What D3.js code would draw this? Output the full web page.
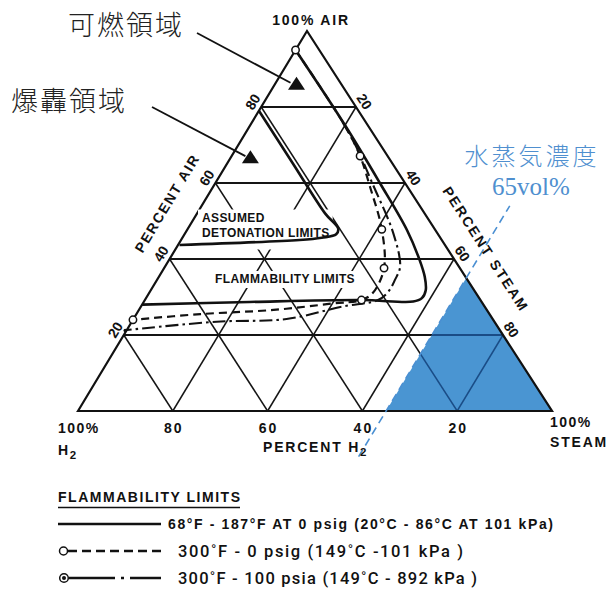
<!DOCTYPE html>
<html>
<head>
<meta charset="utf-8">
<script src="https://cdn.jsdelivr.net/npm/d3@7/dist/d3.min.js"></script>
<style>
  body { margin: 0; background: #fff; }
  svg { display: block; }
  .lbl { font-family: "Liberation Sans", Arial, sans-serif; font-weight: bold; fill: #111; }
  .jp { font-family: "Noto Sans CJK JP", sans-serif; font-weight: 300; }
</style>
</head>
<body>
<svg id="chart" width="608" height="590"></svg>
<script>
// ---- ternary grid ticks (percent) ----
const gridTicks = [20, 40, 60, 80];
const h2TickLabels = ["80", "60", "40", "20"];      // along the base, H2 %
const airTickLabels = ["20", "40", "60", "80"];     // left side, air %
const steamTickLabels = ["20", "40", "60", "80"];   // right side, steam %

// ---- flammability / detonation limit curves, [H2, air, steam] vol% ----
const limitsAmbient = [
  [5, 95, 0], [4.8, 75, 20.2], [5.3, 60, 34.7], [6, 47.5, 46.5], [7.4, 39.7, 52.9],
  [8.6, 35.3, 56.1], [10.2, 31.8, 58], [12.1, 29.7, 58.2], [14.4, 28.8, 56.8],
  [25, 29.2, 45.8], [49, 28.7, 22.3], [72, 28, 0]
];
const limits300F0psig = [
  [5, 95, 0], [4.9, 75, 20.1], [5.8, 67.1, 27.1], [7.9, 59, 33.1], [11.2, 47.8, 41],
  [16, 37.6, 46.4], [21.7, 31.1, 47.2], [25.1, 29.2, 45.7], [31.6, 28.3, 40.1],
  [45, 26.6, 28.4], [61, 25.5, 13.5], [76, 24, 0]
];
const markers300F0psig = [
  [5, 95, 0], [5.8, 67.1, 27.1], [11.2, 47.8, 41], [16, 37.6, 46.4], [25.1, 29.2, 45.7], [76, 24, 0]
];
const limits300F100psia = [
  [4.9, 76, 19.1], [5.3, 70, 24.7], [7, 59.5, 33.5], [9.3, 46.8, 43.9], [12.4, 38, 49.6],
  [15.3, 34.5, 50.2], [18.3, 31.4, 50.3], [21.6, 29.2, 49.2], [30, 27.5, 42.5],
  [43.5, 24.2, 32.3], [58.6, 23.5, 17.9], [78.7, 21.3, 0]
];
const detonationLimits = [
  [21, 79, 0], [21, 65, 14], [21, 52, 27], [20.3, 48, 31.7], [21.5, 46.5, 32],
  [25, 45.6, 29.4], [30, 45, 25], [56, 43.7, 0.3]
];
// region markers, [H2, air, steam]
const flammableMark = [9.4, 86.1, 4.5];
const detonationMark = [29.1, 66.8, 4.1];
// steam concentration threshold, vol%
const steamThreshold = 65;
const guideAirRange = [-12, 54];

// ---- legend ----
const legendTitle = "FLAMMABILITY LIMITS";
const legendLabels = [
  "68°F - 187°F AT 0 psig (20°C - 86°C AT 101 kPa)",
  "300˚F - 0 psig (149˚C -101 kPa )",
  "300˚F - 100 psia (149˚C - 892 kPa )"
];

const svg = d3.select("#chart");

// ternary -> screen: air sets the height, steam shifts along the base
const yAir = d3.scaleLinear().domain([0, 100]).range([411, 31]);
const xAirShift = d3.scaleLinear().domain([0, 100]).range([78, 307]);
const xSteam = d3.scaleLinear().domain([0, 100]).range([0, 474]);
const pt = ([h2, air, steam]) => [xAirShift(air) + xSteam(steam), yAir(air)];

const L = pt([100, 0, 0]), A = pt([0, 100, 0]), R = pt([0, 0, 100]);
const unit = (dx, dy) => { const m = Math.hypot(dx, dy); return [dx / m, dy / m]; };
const leftDir = unit(A[0] - L[0], A[1] - L[1]);
const rightDir = unit(R[0] - A[0], R[1] - A[1]);
const leftNormal = [leftDir[1], -leftDir[0]];
const rightNormal = [rightDir[1], -rightDir[0]];
const leftAngle = Math.atan2(leftDir[1], leftDir[0]) * 180 / Math.PI;
const rightAngle = Math.atan2(rightDir[1], rightDir[0]) * 180 / Math.PI;

function gridSegments() {
  const segs = [];
  gridTicks.forEach(v => {
    segs.push({ a: pt([100 - v, v, 0]), b: pt([0, v, 100 - v]), w: 2.1 });   // constant air
    segs.push({ a: pt([v, 100 - v, 0]), b: pt([v, 0, 100 - v]), w: 1.5 });   // constant H2
    segs.push({ a: pt([100 - v, 0, v]), b: pt([0, 100 - v, v]), w: 1.5 });   // constant steam
  });
  return segs;
}
function drawGrid(g, color) {
  g.selectAll("line").data(gridSegments()).join("line")
    .attr("x1", d => d.a[0]).attr("y1", d => d.a[1])
    .attr("x2", d => d.b[0]).attr("y2", d => d.b[1])
    .attr("stroke", color).attr("stroke-width", d => d.w);
}

const gridG = svg.append("g");
drawGrid(gridG, "#151515");

// high-steam region
const steamRegion = [
  [100 - steamThreshold, 0, steamThreshold], [0, 0, 100], [0, 100 - steamThreshold, steamThreshold]
].map(pt);
svg.append("clipPath").attr("id", "steamClip")
  .append("polygon").attr("points", steamRegion.map(p => p.join(",")).join(" "));
svg.append("polygon").attr("points", steamRegion.map(p => p.join(",")).join(" "))
  .attr("fill", "#4a95d2");
const gridBlue = svg.append("g").attr("clip-path", "url(#steamClip)");
drawGrid(gridBlue, "#1a4c86");

// outer triangle
svg.append("path").attr("d", d3.line()([L, A, R, L]) + "Z")
  .attr("fill", "none").attr("stroke", "#111").attr("stroke-width", 2.2)
  .attr("stroke-linejoin", "miter");

// steam concentration guide
const gA = pt([100 - steamThreshold - guideAirRange[0], guideAirRange[0], steamThreshold]);
const gB = pt([100 - steamThreshold - guideAirRange[1], guideAirRange[1], steamThreshold]);
svg.append("line").attr("x1", gA[0]).attr("y1", gA[1]).attr("x2", gB[0]).attr("y2", gB[1])
  .attr("stroke", "#4a8fd2").attr("stroke-width", 1.6).attr("stroke-dasharray", "8,5");

// in-plot labels with white knock-out behind them
const maskG = svg.append("g");
const curveG = svg.append("g").attr("fill", "none").attr("stroke", "#111");
const textG = svg.append("g");

const inner = [
  { t: "ASSUMED", x: 202, y: 221.5 },
  { t: "DETONATION LIMITS", x: 202, y: 236.5 },
  { t: "FLAMMABILITY LIMITS", x: 215, y: 283 }
];
const innerNodes = inner.map(d => textG.append("text").attr("class", "lbl")
  .attr("x", d.x).attr("y", d.y).attr("font-size", 12).attr("letter-spacing", 0.4)
  .text(d.t).node());
function knockout(nodes, pad) {
  const boxes = nodes.map(n => n.getBBox());
  const x0 = d3.min(boxes, b => b.x) - pad[3], x1 = d3.max(boxes, b => b.x + b.width) + pad[1];
  const y0 = d3.min(boxes, b => b.y) - pad[0], y1 = d3.max(boxes, b => b.y + b.height) + pad[2];
  maskG.append("rect").attr("x", x0).attr("y", y0).attr("width", x1 - x0).attr("height", y1 - y0)
    .attr("fill", "#fff");
}
knockout(innerNodes.slice(0, 2), [1, 3, 10, 4]);
knockout(innerNodes.slice(2), [1, 4, 2, 4]);

const smooth = d3.line().curve(d3.curveCatmullRom.alpha(0.5));
curveG.append("path").attr("d", smooth(detonationLimits.map(pt))).attr("stroke-width", 2.6);
curveG.append("path").attr("d", smooth(limitsAmbient.map(pt))).attr("stroke-width", 2.6);
curveG.append("path").attr("d", smooth(limits300F0psig.map(pt))).attr("stroke-width", 2.2)
  .attr("stroke-dasharray", "8,5");
curveG.append("path").attr("d", smooth(limits300F100psia.map(pt))).attr("stroke-width", 2.1)
  .attr("stroke-dasharray", "13,4,2.5,4");
curveG.selectAll("circle.m").data(markers300F0psig).join("circle").attr("class", "m")
  .attr("cx", d => pt(d)[0]).attr("cy", d => pt(d)[1]).attr("r", 3.7)
  .attr("fill", "#fff").attr("stroke-width", 1.5);
const endDot = pt(limits300F100psia[limits300F100psia.length - 1]);
curveG.append("circle").attr("cx", endDot[0] - 1.5).attr("cy", endDot[1] + 0.5).attr("r", 1.8)
  .attr("fill", "#111").attr("stroke", "none");

// region markers with leader lines
function markTri(c) {
  const [x, y] = pt(c);
  return [[x - 8.5, y + 6], [x + 8.5, y + 6], [x, y - 7]];
}
const fm = pt(flammableMark), dm = pt(detonationMark);
svg.append("line").attr("x1", 197).attr("y1", 33).attr("x2", fm[0] - 6).attr("y2", fm[1] - 1)
  .attr("stroke", "#111").attr("stroke-width", 1.8);
svg.append("line").attr("x1", 152).attr("y1", 107).attr("x2", dm[0] - 5).attr("y2", dm[1] - 1)
  .attr("stroke", "#111").attr("stroke-width", 1.8);
[flammableMark, detonationMark].forEach(c => {
  svg.append("polygon").attr("points", markTri(c).map(p => p.join(",")).join(" ")).attr("fill", "#111");
});

// Japanese annotations
svg.append("text").attr("class", "jp").attr("x", 68).attr("y", 35).attr("font-size", 27)
  .attr("letter-spacing", 2).attr("fill", "#222").text("可燃領域");
svg.append("text").attr("class", "jp").attr("x", 11).attr("y", 111).attr("font-size", 27)
  .attr("letter-spacing", 2).attr("fill", "#222").text("爆轟領域");
svg.append("text").attr("class", "jp").attr("x", 532).attr("y", 165).attr("font-size", 24)
  .attr("letter-spacing", 3).attr("text-anchor", "middle").attr("fill", "#4f8fcf").text("水蒸気濃度");
svg.append("text").attr("x", 531).attr("y", 195).attr("font-size", 25)
  .attr("font-family", "'Liberation Serif', serif").attr("text-anchor", "middle")
  .attr("fill", "#4f8fcf").text(steamThreshold + "vol%");

// side tick labels
const axG = svg.append("g").attr("class", "lbl").attr("font-size", 14);
airTickLabels.forEach((t, i) => {
  const v = gridTicks[i];
  const e = pt([100 - v, v, 0]);
  const x = e[0] + leftNormal[0] * 10, y = e[1] + leftNormal[1] * 10;
  axG.append("text").attr("transform", `translate(${x},${y}) rotate(${leftAngle})`)
    .attr("text-anchor", "middle").attr("dominant-baseline", "central").text(t);
});
steamTickLabels.forEach((t, i) => {
  const v = gridTicks[i];
  const e = pt([0, 100 - v, v]);
  const x = e[0] + rightNormal[0] * 10, y = e[1] + rightNormal[1] * 10;
  axG.append("text").attr("transform", `translate(${x},${y}) rotate(${rightAngle})`)
    .attr("text-anchor", "middle").attr("dominant-baseline", "central").text(t);
});
h2TickLabels.forEach((t, i) => {
  const v = gridTicks[i];
  const e = pt([100 - v, 0, v]);
  axG.append("text").attr("x", e[0] + 1).attr("y", 433).attr("text-anchor", "middle")
    .attr("letter-spacing", 2).text(t);
});
{
  const e = pt([50, 50.5, 0]);
  const x = e[0] + leftNormal[0] * 31, y = e[1] + leftNormal[1] * 31;
  axG.append("text").attr("transform", `translate(${x},${y}) rotate(${leftAngle})`)
    .attr("text-anchor", "middle").attr("dominant-baseline", "central")
    .attr("letter-spacing", 1.6).text("PERCENT AIR");
}
{
  const e = pt([0, 38, 62]);
  const x = e[0] + rightNormal[0] * 32, y = e[1] + rightNormal[1] * 32;
  axG.append("text").attr("transform", `translate(${x},${y}) rotate(${rightAngle})`)
    .attr("text-anchor", "middle").attr("dominant-baseline", "central")
    .attr("letter-spacing", 2).text("PERCENT STEAM");
}
axG.append("text").attr("x", 311).attr("y", 25).attr("text-anchor", "middle")
  .attr("letter-spacing", 1.8).text("100% AIR");
axG.append("text").attr("x", 58).attr("y", 433).attr("letter-spacing", 1.5).text("100%");
const h2lbl = axG.append("text").attr("x", 58).attr("y", 455).attr("letter-spacing", 1.5);
h2lbl.append("tspan").text("H");
h2lbl.append("tspan").attr("dy", 4).attr("font-size", 11.5).text("2");
axG.append("text").attr("x", 550).attr("y", 427).attr("letter-spacing", 1.5).text("100%");
axG.append("text").attr("x", 550).attr("y", 447).attr("letter-spacing", 1.8).text("STEAM");
const ph = axG.append("text").attr("x", 263).attr("y", 452).attr("letter-spacing", 1.8);
ph.append("tspan").text("PERCENT H");
ph.append("tspan").attr("dy", 4).attr("font-size", 11.5).text("2");

// ---- legend ----
const lg = svg.append("g");
lg.append("text").attr("class", "lbl").attr("x", 58).attr("y", 502).attr("font-size", 14)
  .attr("textLength", 182).attr("lengthAdjust", "spacing").text(legendTitle);
lg.append("line").attr("x1", 58).attr("x2", 240).attr("y1", 507.5).attr("y2", 507.5)
  .attr("stroke", "#111").attr("stroke-width", 1.6);
const rowY = [524, 551, 578];
lg.append("line").attr("x1", 58).attr("x2", 161).attr("y1", rowY[0]).attr("y2", rowY[0])
  .attr("stroke", "#111").attr("stroke-width", 2.5);
lg.append("line").attr("x1", 68).attr("x2", 161).attr("y1", rowY[1]).attr("y2", rowY[1])
  .attr("stroke", "#111").attr("stroke-width", 2.5).attr("stroke-dasharray", "9,5");
lg.append("circle").attr("cx", 63.5).attr("cy", rowY[1]).attr("r", 4)
  .attr("fill", "#fff").attr("stroke", "#111").attr("stroke-width", 1.5);
lg.append("line").attr("x1", 69).attr("x2", 161).attr("y1", rowY[2]).attr("y2", rowY[2])
  .attr("stroke", "#111").attr("stroke-width", 2.5).attr("stroke-dasharray", "46,6,3,6,31");
lg.append("circle").attr("cx", 64).attr("cy", rowY[2]).attr("r", 4.3)
  .attr("fill", "#fff").attr("stroke", "#111").attr("stroke-width", 1.5);
lg.append("circle").attr("cx", 64).attr("cy", rowY[2]).attr("r", 2).attr("fill", "#111");
lg.append("text").attr("class", "lbl").attr("x", 168).attr("y", rowY[0] + 5).attr("font-size", 14)
  .attr("textLength", 385).attr("lengthAdjust", "spacing").text(legendLabels[0]);
const rowLen = [0, 285, 299];
[1, 2].forEach(i => {
  lg.append("text").attr("x", 178).attr("y", rowY[i] + 6).attr("font-size", 16.5)
    .attr("font-family", "Roboto, 'Liberation Sans', sans-serif").attr("font-weight", 500)
    .attr("fill", "#111").attr("textLength", rowLen[i]).attr("lengthAdjust", "spacing")
    .text(legendLabels[i]);
});
</script>
</body>
</html>
